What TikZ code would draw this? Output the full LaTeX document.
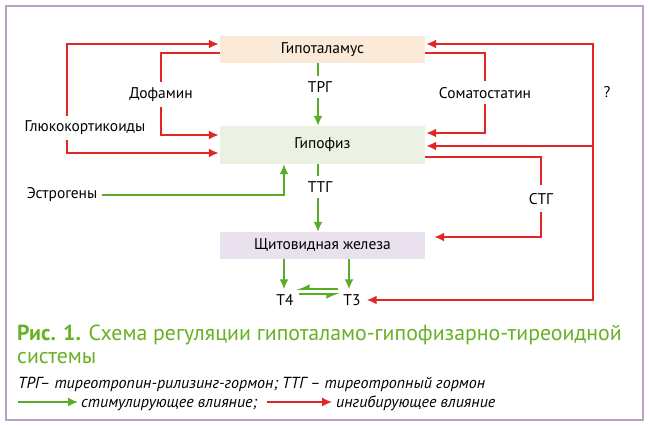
\documentclass[tikz,border=0pt]{standalone}
\usepackage{fontspec}
\setmainfont{PT Sans}
\usetikzlibrary{positioning, arrows.meta}
\definecolor{inhibred}{RGB}{226,38,36}
\definecolor{stimgreen}{RGB}{88,172,38}
\definecolor{capgreen}{RGB}{104,176,36}
\definecolor{framepurple}{RGB}{184,160,196}
\definecolor{hthfill}{RGB}{252,234,216}
\definecolor{hphfill}{RGB}{235,242,228}
\definecolor{thyfill}{RGB}{233,225,238}

\begin{document}
\begin{tikzpicture}[x=1pt, y=-1pt]
    % Define the styles for the organs, hormones and arrows
    \tikzset{
        organ/.style={rectangle, minimum width=205pt, text centered, font=\fontsize{15.5}{18}\selectfont},
        hormone/.style={inner sep=5pt, font=\fontsize{15.5}{18}\selectfont},
        stim/.style={draw=stimgreen, line width=1.8pt, -{Latex[length=10pt, width=9pt]}},
        inhib/.style={draw=inhibred, line width=1.8pt, -{Latex[length=10pt, width=9pt]}, shorten >=1pt},
        note/.style={anchor=base west, inner sep=3pt, font=\fontsize{16}{19}\selectfont\itshape}
    }

    % Frame
    \useasboundingbox (0,0) rectangle (650,426);
    \draw[framepurple, line width=1.2pt] (6,6) rectangle (643,420);

    % Draw the organs
    \node[organ, fill=hthfill, minimum height=27pt] (hth) at (322.5,49.5) {Гипоталамус};
    \node[organ, fill=hphfill, minimum height=38pt] (hph) at (322.5,145) {Гипофиз};
    \node[organ, fill=thyfill, minimum height=27pt] (thy) at (322.5,245.5) {Щитовидная железа};

    % Draw the hormones
    \node[hormone] (trg) at (320,87) {ТРГ};
    \node[hormone] (ttg) at (320,187) {ТТГ};
    \node[hormone] (dop) at (161,95) {Дофамин};
    \node[hormone] (glu) at (85,128) {Глюкокортикоиды};
    \node[hormone] (est) at (62,195) {Эстрогены};
    \node[hormone] (som) at (485,93) {Соматостатин};
    \node[hormone, inner sep=7pt] (sth) at (541,199) {СТГ};
    \node[hormone] (q) at (607,92) {?};
    \node[hormone] (t4) at (285,300) {Т4};
    \node[hormone] (t3) at (352,300) {Т3};

    % Stimulating connections
    \draw[stim, -] ([xshift=-2pt]trg |- hth.south) -- ([xshift=-2pt]trg.north);
    \draw[stim] ([xshift=-2pt]trg.south) -- ([xshift=-2pt]trg |- hph.north);
    \draw[stim, -] ([xshift=-2pt]ttg |- hph.south) -- ([xshift=-2pt]ttg.north);
    \draw[stim] ([xshift=-2pt]ttg.south) -- ([xshift=-2pt]ttg |- thy.north);
    \draw[stim] (est.east) -| ([xshift=-38.5pt]hph.south);
    \draw[stim] ([xshift=-1pt]thy.south -| t4) -- ([xshift=-1pt]t4.north);
    \draw[stim] ([xshift=-3pt]thy.south -| t3) -- ([xshift=-3pt]t3.north);
    \draw[stim, -{Latex[harpoon, swap, length=11pt, width=10pt]}] ([yshift=11pt]t3.west) -- ([yshift=11pt, xshift=-3pt]t4.east);
    \draw[stim, -{Latex[harpoon, swap, length=11pt, width=10pt]}] ([yshift=6pt]t4.east) -- ([yshift=6pt, xshift=2pt]t3.west);

    % Inhibiting connections
    \draw[inhib] ([xshift=-18pt]glu.north) |- ([yshift=5.5pt]hth.west);
    \draw[inhib] ([xshift=-18pt]glu.south) |- ([yshift=-8pt]hph.west);
    \draw[inhib, -] ([yshift=-3.5pt]hth.west) -| (dop.north);
    \draw[inhib] (dop.south) |- ([yshift=10pt]hph.west);
    \draw[inhib, -] ([yshift=-3.5pt]hth.east) -| (som.north);
    \draw[inhib] (som.south) |- ([yshift=12pt]hph.east);
    \draw[inhib, -] ([yshift=-12pt]hph.east) -| (sth.north);
    \draw[inhib] (sth.south) |- ([yshift=8.5pt, xshift=8pt]thy.east);

    % Feedback from the unknown source
    \coordinate (fb) at (593,146);
    \draw[inhib] (fb) |- ([yshift=5.5pt]hth.east);
    \draw[inhib] (fb) -- (fb -| hph.east);
    \draw[inhib] (fb) |- (t3.east);

    % Caption
    \node[anchor=base west, inner sep=0pt, text=capgreen, font=\fontsize{21.8}{25}\selectfont] (cap1) at (17,340) {\textbf{Рис. 1.} Схема регуляции гипоталамо-гипофизарно-тиреоидной};
    \node[anchor=base west, inner sep=0pt, text=capgreen, font=\fontsize{21.8}{25}\selectfont] (cap2) at (17,363) {системы};
    \node[note, inner sep=0pt] (abbr) at (18,388) {ТРГ– тиреотропин-рилизинг-гормон; ТТГ – тиреотропный гормон};

    % Legend
    \coordinate (lgs) at (18,402);
    \node[note] (stimtxt) at (78,407) {стимулирующее влияние;};
    \draw[stim, line width=1.5pt] (lgs) -- (lgs -| stimtxt.west);
    \coordinate (lgi) at (267,402);
    \node[note] (inhibtxt) at (333,407) {ингибирующее влияние};
    \draw[inhib, line width=1.5pt] (lgi) -- (lgi -| inhibtxt.west);
\end{tikzpicture}
\end{document}
